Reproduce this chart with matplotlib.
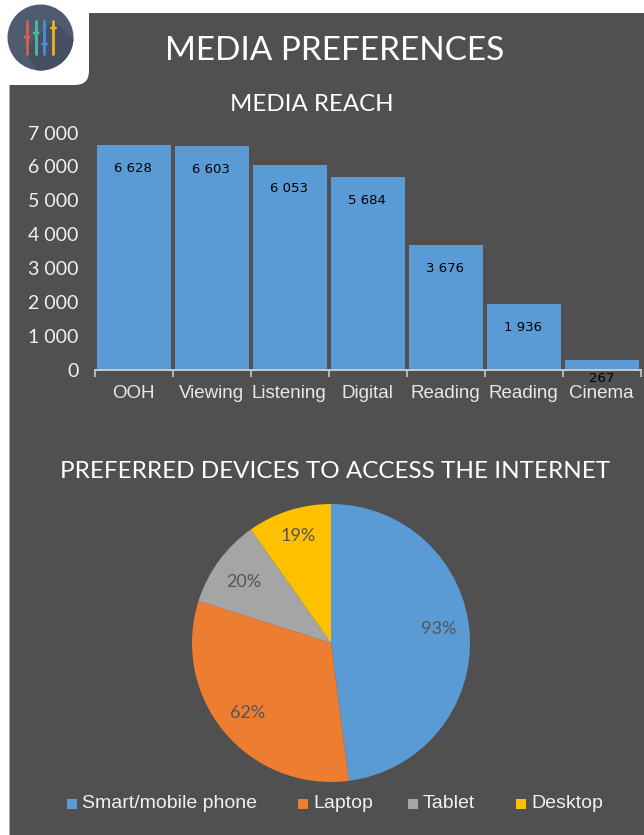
import matplotlib
matplotlib.use("Agg")
import matplotlib.pyplot as plt
from matplotlib.patches import Circle, FancyBboxPatch, PathPatch, Polygon, Rectangle
from matplotlib.path import Path

W, H = 644, 835
BG = "#505050"
BLUE = "#5b9bd5"
ORANGE = "#ed7d31"
GREY = "#a5a5a5"
YELLOW = "#ffc000"

reach_labels = ["OOH", "Viewing", "Listening", "Digital", "Reading", "Reading", "Cinema"]
reach_values = [6628, 6603, 6053, 5684, 3676, 1936, 267]
reach_ticks = [0, 1000, 2000, 3000, 4000, 5000, 6000, 7000]
reach_ticklabels = ["0", "1 000", "2 000", "3 000", "4 000", "5 000", "6 000", "7 000"]

device_labels = ["Smart/mobile phone", "Laptop", "Tablet", "Desktop"]
device_values = [93, 62, 20, 19]
device_colors = [BLUE, ORANGE, GREY, YELLOW]

slider_colors = ["#d9604c", "#4dbd96", "#4a90d9", "#f2b01e"]
slider_knobs = [37, 33, 44, 28]

plt.rcParams["font.family"] = ["Lato", "DejaVu Sans"]
NARROW = ["Liberation Sans", "DejaVu Sans"]

fig = plt.figure(figsize=(W / 100, H / 100), dpi=100, facecolor="white")


def axes_px(left, top, right, bottom, **kw):
    return fig.add_axes([left / W, 1 - bottom / H, (right - left) / W, (bottom - top) / H], **kw)


# full-figure layer in pixel coordinates for the panel, logo and titles
bg = axes_px(0, 0, W, H)
bg.set_xlim(0, W)
bg.set_ylim(H, 0)
bg.axis("off")

verts = [(89, 13), (W, 13), (W, H), (9.5, H), (9.5, 85), (75, 85), (89, 85), (89, 71), (89, 13)]
codes = [Path.MOVETO, Path.LINETO, Path.LINETO, Path.LINETO, Path.LINETO, Path.LINETO,
         Path.CURVE3, Path.CURVE3, Path.CLOSEPOLY]
bg.add_patch(PathPatch(Path(verts, codes), fc=BG, ec="none"))

# logo
logo = Circle((40.5, 37.5), 33, fc="#4f5b6e", ec="none")
bg.add_patch(logo)
shadow = Polygon([(24, 50), (54, 20), (76, 42), (70, 75), (40, 75)], fc="#465062", ec="none")
bg.add_patch(shadow)
shadow.set_clip_path(logo)
for x, color, knob in zip([27, 36, 44.5, 53.5], slider_colors, slider_knobs):
    bg.plot([x, x], [21, 54], color=color, lw=2, solid_capstyle="round")
    bg.add_patch(FancyBboxPatch((x - 2.5, knob - 0.5), 5, 1,
                                boxstyle="round,pad=0.8", fc=color, ec="none"))

bg.text(335, 50.5, "MEDIA PREFERENCES", color="white", fontsize=24, ha="center", va="center")
bg.text(312, 104.5, "MEDIA REACH", color="white", fontsize=17.3, ha="center", va="center")
bg.text(335, 471, "PREFERRED DEVICES TO ACCESS THE INTERNET", color="white", fontsize=17.5,
        ha="center", va="center")

# bar chart
ax = axes_px(95, 132.5, 641, 369.5)
ax.patch.set_alpha(0)
xs = list(range(len(reach_values)))
ax.bar(xs, reach_values, width=0.95, color=BLUE)
ax.set_xlim(-0.5, 6.5)
ax.set_ylim(0, 7000)
ax.set_yticks(reach_ticks)
ax.set_yticklabels(reach_ticklabels, color="#f0f0f0", fontsize=14)
ax.tick_params(axis="y", length=0, pad=12)
ax.set_xticks([i - 0.5 for i in range(8)])
ax.set_xticklabels([])
ax.tick_params(axis="x", length=5, width=1.2, color="#c8c8c8", direction="out")
for i, name in enumerate(reach_labels):
    ax.text(i - 0.01, -720, name, color="#e8e8e8", fontsize=13.5, ha="center", va="center", family=NARROW)
for s in ["top", "right", "left"]:
    ax.spines[s].set_visible(False)
ax.spines["bottom"].set_color("#c8c8c8")
ax.spines["bottom"].set_linewidth(1.4)

# value labels sit near the top of each bar, the smallest one falls under the axis
for i, v in enumerate(reach_values):
    y = v - 700 if v > 1000 else -260
    ax.text(i - 0.01, y, f"{v:,}".replace(",", " "), color="black", fontsize=9.5,
            fontfamily="DejaVu Sans", ha="center", va="center", clip_on=False, zorder=5)

# pie chart
pie_ax = axes_px(331 - 139, 643 - 139, 331 + 139, 643 + 139)
wedges, _, pcts = pie_ax.pie(device_values, colors=device_colors, startangle=90, counterclock=False,
                             radius=1, autopct=lambda p: f"{round(p * sum(device_values) / 100)}%",
                             pctdistance=0.78, textprops={"color": "#555555", "fontsize": 13})
pie_ax.set_xlim(-1, 1)
pie_ax.set_ylim(-1, 1)

# nudge percentage labels off the default radial spot
for t, (dx, dy) in zip(pcts, [(-0.005, 0.05), (-0.005, 0.0), (-0.0, -0.02), (0.0, 0.03)]):
    px, py = t.get_position()
    t.set_position((px + dx, py + dy))

# legend
for x, name, color in zip([67, 298, 408, 516], device_labels, device_colors):
    bg.add_patch(Rectangle((x, 799), 10, 10, fc=color, ec="none"))
    bg.text(x + 15, 804, name, color="#f0f0f0", fontsize=14, va="center", family=NARROW)

fig.savefig("out.png", dpi=100, facecolor="white")
